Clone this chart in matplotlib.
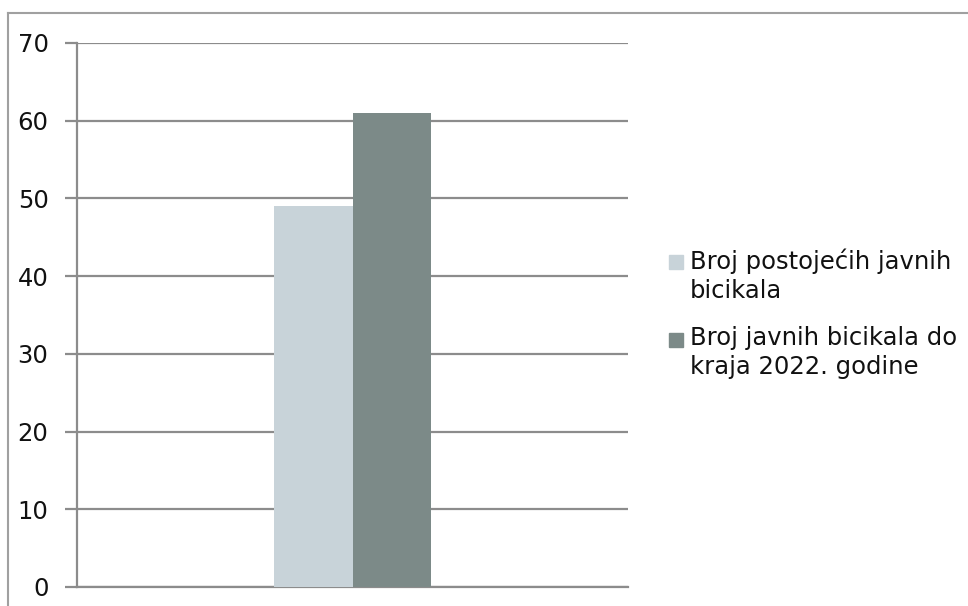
import matplotlib.pyplot as plt
from matplotlib.patches import Rectangle
from matplotlib.lines import Line2D

# data
series_labels = ["Broj postoje\u0107ih javnih\nbicikala",
                 "Broj javnih bicikala do\nkraja 2022. godine"]
values = [49, 61]
colors = ["#c8d3d9", "#7c8a88"]
yticks = [0, 10, 20, 30, 40, 50, 60, 70]

plt.rcParams['font.family'] = ['DejaVu Sans']

fig = plt.figure(figsize=(9.68, 6.06), dpi=100)
ax = fig.add_axes([77/968, 1 - 587/606, (628 - 77)/968, (587 - 43)/606])

bar_w = 0.5
for i, (v, c) in enumerate(zip(values, colors)):
    ax.bar((i - 0.5) * bar_w, v, width=bar_w, color=c, zorder=3)

ax.set_xlim(-1.75, 1.75)
ax.set_ylim(0, 70)
ax.set_yticks(yticks)
ax.set_xticks([])
ax.yaxis.grid(True, color="#8c8c8c", linewidth=1.6, zorder=1)
ax.tick_params(axis="y", length=9, width=1.6, color="#8c8c8c",
               labelsize=17.5, pad=11.5, labelcolor="#111111")
for s in ["top", "right"]:
    ax.spines[s].set_visible(False)
for s in ["left", "bottom"]:
    ax.spines[s].set_color("#8c8c8c")
    ax.spines[s].set_linewidth(1.6)

# outer frame (only top and left visible in the picture)
fig.add_artist(Line2D([8/968, 1], [1 - 13/606, 1 - 13/606],
                      transform=fig.transFigure, color="#a0a0a0", linewidth=1.5))
fig.add_artist(Line2D([8/968, 8/968], [0, 1 - 13/606],
                      transform=fig.transFigure, color="#a0a0a0", linewidth=1.5))

# legend drawn by hand so the box lines up with the first text line
leg_y = [262, 340]
for lab, c, y in zip(series_labels, colors, leg_y):
    fig.add_artist(Rectangle((669/968, 1 - (y + 7)/606), 14/968, 14/606,
                             transform=fig.transFigure, color=c))
    fig.text(690/968, 1 - (y - 14)/606, lab, fontsize=17.5, va="top",
             ha="left", linespacing=1.28, color="#111111")

fig.savefig("out.png", dpi=100)
